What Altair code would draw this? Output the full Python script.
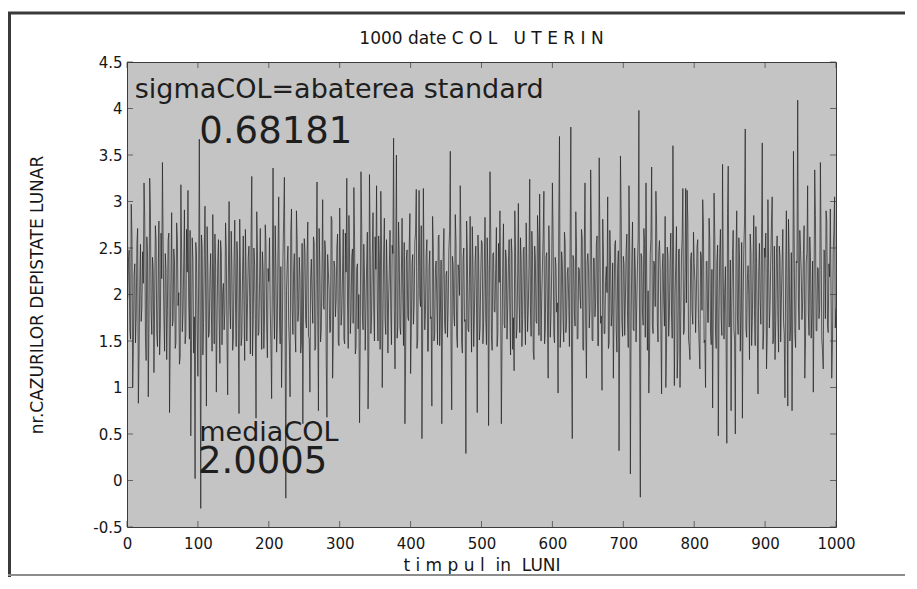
import altair as alt
import pandas as pd

NB = "\u00a0"
# ---------------- texts ----------------
title_text = "1000 date C O L" + NB * 3 + "U T E R I N"
x_title = "t i m p u l" + NB * 2 + "in" + NB * 2 + "LUNI"
y_title = "nr.CAZURILOR DEPISTATE LUNAR"
sigma_label = "sigmaCOL=abaterea standard"
sigma_value = "0.68181"
media_label = "mediaCOL"
media_value = "2.0005"

# ---------------- axis ticks ----------------
x_ticks = [0, 100, 200, 300, 400, 500, 600, 700, 800, 900, 1000]
y_ticks = [-0.5, 0, 0.5, 1, 1.5, 2, 2.5, 3, 3.5, 4, 4.5]

# ---------------- series: even months (2, 4, ..., 1000) ----------------
e00 = [2.35, 1.62, 2.97, 1.00, 2.21, 1.48, 2.55, 0.83, 2.10, 1.71, 2.46, 3.20, 1.55, 2.62, 0.90, 3.25, 1.83, 2.40, 1.16, 2.74, 1.58, 2.18, 1.35, 2.66, 3.42]
e01 = [1.78, 2.44, 1.30, 2.58, 0.73, 2.20, 1.66, 2.49, 1.42, 2.77, 1.88, 1.25, 3.18, 1.60, 2.34, 1.47, 2.70, 3.12, 1.52, 0.48, 2.61, 1.37, 0.02, 2.45, 1.12]
e02 = [3.67, -0.30, 2.52, 1.70, 2.95, 0.80, 2.31, 1.58, 2.44, 1.39, 2.19, 2.65, 0.95, 2.36, 1.74, 2.58, 1.46, 2.12, 1.81, 2.49, 0.92, 3.00, 1.63, 2.27, 1.51]
e03 = [2.80, 1.44, 2.39, 0.72, 2.18, 1.55, 2.63, 1.29, 2.21, 1.90, 2.52, 1.36, 3.27, 1.68, 2.32, 0.67, 2.47, 1.59, 2.71, 1.41, 2.26, 1.77, 2.55, 1.32, 2.14]
e04 = [1.86, 0.88, 3.36, 1.52, 2.29, 1.64, 3.05, 1.47, 1.00, 2.40, 3.26, -0.19, 2.33, 1.71, 0.90, 2.92, 1.57, 2.44, 1.38, 2.59, 1.82, 2.17, 1.49, 0.61, 2.60]
e05 = [1.73, 2.41, 1.55, 0.95, 2.38, 1.69, 2.56, 1.43, 3.21, 0.75, 2.30, 1.61, 3.02, 1.84, 2.47, 0.68, 2.25, 1.59, 2.84, 1.10, 2.36, 1.76, 2.51, 1.48, 2.93]
e06 = [1.67, 2.22, 1.52, 2.66, 3.25, 1.42, 2.35, 1.78, 2.49, 3.15, 1.36, 2.28, 1.63, 0.62, 3.32, 1.79, 2.54, 1.40, 2.31, 0.77, 3.29, 1.58, 2.43, 1.85, 2.62]
e07 = [3.17, 1.50, 2.37, 3.11, 1.00, 2.46, 1.72, 2.59, 1.37, 2.27, 1.83, 2.53, 3.68, 1.20, 3.50, 1.65, 2.42, 1.57, 2.82, 1.45, 0.61, 2.38, 1.76, 2.50, 1.15]
e08 = [2.33, 1.68, 2.57, 3.13, 1.51, 3.12, 1.87, 0.45, 3.14, 1.62, 2.44, 1.39, 2.29, 1.74, 0.80, 2.53, 1.58, 2.36, 1.46, 2.64, 1.81, 0.61, 2.41, 1.69, 2.22]
e09 = [1.54, 2.48, 3.54, 0.76, 2.31, 1.66, 2.57, 1.43, 2.26, 3.17, 1.49, 2.39, 1.71, 0.29, 2.45, 1.60, 2.84, 1.38, 2.30, 1.79, 2.52, 0.73, 2.37, 1.64, 2.58]
e10 = [1.47, 2.34, 1.75, 2.61, 0.59, 3.32, 1.56, 2.43, 1.82, 2.27, 1.44, 2.55, 2.90, 0.61, 2.39, 1.68, 2.48, 1.52, 2.33, 1.77, 2.60, 1.41, 1.18, 2.46, 1.63]
e11 = [2.98, 1.59, 2.35, 1.73, 2.51, 1.46, 2.28, 1.84, 3.24, 1.55, 2.42, 1.30, 2.37, 1.69, 2.58, 3.08, 1.50, 2.31, 3.11, 1.62, 2.45, 1.10, 2.36, 1.78, 3.20]
e12 = [1.57, 2.40, 1.81, 0.94, 3.70, 1.63, 2.33, 1.49, 2.56, 1.72, 2.29, 1.44, 3.80, 0.45, 2.38, 1.66, 2.52, 1.53, 2.27, 1.85, 2.61, 1.40, 3.20, 1.10, 2.44]
e13 = [1.64, 3.34, 1.51, 2.39, 1.76, 2.53, 1.45, 3.47, 1.69, 0.97, 2.43, 1.58, 2.30, 3.05, 1.48, 2.36, 1.80, 1.10, 2.54, 1.62, 2.28, 0.32, 3.49, 1.71, 2.41]
e14 = [1.56, 2.47, 1.74, 3.17, 0.07, 2.35, 1.63, 2.50, 1.49, 2.31, 3.98, -0.18, 2.40, 1.67, 2.55, 3.20, 1.40, 0.94, 2.43, 3.37, 1.58, 2.32, 3.11, 1.70, 2.46]
e15 = [2.29, 0.93, 2.44, 1.66, 1.00, 2.51, 1.55, 2.37, 1.79, 3.60, 1.02, 2.34, 1.10, 2.48, 1.00, 2.39, 3.14, 1.61, 3.14, 3.12, 1.52, 1.30, 2.45, 1.68, 2.33]
e16 = [1.59, 2.52, 1.73, 1.20, 2.41, 3.02, 1.48, 1.00, 2.36, 1.70, 2.57, 1.46, 0.78, 3.09, 1.61, 2.35, 0.48, 2.44, 1.75, 3.40, 1.52, 2.30, 0.40, 3.38, 1.66]
e17 = [0.75, 2.42, 1.63, 0.50, 2.90, 1.57, 2.37, 1.81, 0.67, 2.49, 3.78, 1.54, 2.31, 1.30, 2.46, 1.72, 2.85, 1.45, 2.33, 0.93, 2.55, 1.68, 3.63, 1.59, 2.40]
e18 = [1.20, 3.02, 1.64, 2.38, 3.05, 1.53, 1.30, 2.44, 1.77, 2.52, 1.49, 2.34, 1.71, 0.89, 2.90, 0.80, 2.41, 1.66, 0.75, 3.54, 1.58, 2.36, 4.09, 1.62, 2.47]
e19 = [1.73, 2.43, 1.10, 2.35, 3.17, 1.56, 2.40, 1.80, 0.95, 3.34, 1.61, 2.29, 1.74, 3.42, 1.52, 1.20, 2.46, 2.90, 1.67, 2.33, 2.92, 1.10, 2.44, 3.05, 1.85]

# ---------------- series: odd months (1, 3, ..., 999) ----------------
o00 = [1.95, 2.48, 1.52, 2.62, 1.41, 2.33, 1.77, 2.71, 1.36, 2.54, 1.86, 2.12, 2.83, 1.29, 2.40, 1.68, 2.95, 1.57, 2.26, 1.91, 2.58, 1.44, 2.79, 1.63, 2.17]
o01 = [2.52, 1.39, 2.27, 1.84, 2.66, 1.51, 2.88, 1.72, 2.35, 1.48, 2.61, 2.02, 1.33, 2.47, 1.80, 2.91, 1.58, 2.24, 1.95, 2.69, 1.43, 2.37, 1.76, 2.56, 1.61]
o02 = [2.08, 1.88, 2.64, 1.35, 2.42, 1.96, 2.73, 1.54, 2.19, 1.82, 2.86, 1.47, 2.31, 1.70, 2.59, 1.26, 2.45, 2.03, 1.62, 2.77, 1.53, 2.21, 1.89, 2.68, 1.40]
o03 = [2.36, 1.92, 2.57, 1.60, 2.81, 1.45, 2.23, 1.87, 2.70, 1.50, 2.39, 1.98, 2.63, 1.34, 2.50, 1.73, 2.89, 1.56, 2.14, 1.93, 2.46, 1.42, 2.75, 1.67, 2.28]
o04 = [2.61, 1.46, 2.20, 1.90, 2.74, 1.38, 2.49, 1.79, 2.30, 1.55, 2.83, 1.66, 2.04, 2.52, 1.44, 2.67, 1.85, 2.25, 1.59, 2.90, 1.71, 2.40, 1.37, 2.55, 1.92]
o05 = [2.47, 1.64, 2.78, 1.53, 2.18, 1.97, 2.62, 1.40, 2.34, 1.83, 2.71, 1.49, 2.26, 1.88, 2.58, 1.31, 2.43, 2.06, 1.60, 2.80, 1.52, 2.29, 1.94, 2.65, 1.45]
o06 = [2.38, 1.81, 2.70, 1.47, 2.24, 1.93, 2.85, 1.58, 2.41, 1.69, 2.60, 1.43, 2.33, 2.00, 1.55, 2.76, 1.62, 2.19, 1.86, 2.67, 1.35, 2.51, 1.78, 2.88, 1.50]
o07 = [2.27, 1.90, 2.63, 1.41, 2.53, 1.74, 2.82, 1.57, 2.16, 1.95, 2.69, 1.46, 2.44, 1.84, 2.35, 1.53, 2.78, 1.65, 2.22, 1.99, 2.56, 1.36, 2.48, 1.72, 2.87]
o08 = [1.61, 2.43, 1.89, 2.66, 1.42, 2.30, 1.97, 2.74, 1.54, 2.21, 1.83, 2.59, 1.39, 2.47, 1.76, 2.84, 1.50, 2.28, 1.94, 2.62, 1.45, 2.37, 1.80, 2.71, 1.58]
o09 = [2.25, 1.87, 2.68, 1.48, 2.41, 1.78, 2.86, 1.55, 2.32, 1.99, 2.60, 1.37, 2.50, 1.73, 2.79, 1.63, 2.17, 1.92, 2.73, 1.44, 2.36, 1.85, 2.64, 1.51, 2.23]
o10 = [2.55, 1.70, 2.83, 1.46, 2.27, 1.96, 2.66, 1.40, 2.45, 1.81, 2.72, 1.57, 2.13, 2.01, 1.49, 2.76, 1.64, 2.38, 1.88, 2.59, 1.35, 2.44, 1.75, 2.90, 1.53]
o11 = [2.20, 1.93, 2.61, 1.44, 2.48, 1.79, 2.77, 1.60, 2.30, 1.86, 2.68, 1.39, 2.52, 1.71, 2.85, 1.56, 2.18, 1.98, 2.63, 1.47, 2.40, 1.82, 2.74, 1.54, 2.26]
o12 = [2.64, 1.48, 2.31, 1.91, 2.80, 1.43, 2.46, 1.75, 2.67, 1.59, 2.22, 1.94, 2.57, 1.36, 2.42, 1.80, 2.89, 1.52, 2.29, 1.97, 2.70, 1.41, 2.51, 1.69, 2.35]
o13 = [2.28, 1.84, 2.72, 1.50, 2.39, 1.92, 2.63, 1.45, 2.55, 1.77, 2.81, 1.58, 2.15, 2.02, 1.42, 2.69, 1.66, 2.34, 1.89, 2.58, 1.38, 2.47, 1.83, 2.86, 1.55]
o14 = [2.33, 1.95, 2.65, 1.43, 2.50, 1.72, 2.78, 1.61, 2.24, 1.90, 2.62, 1.47, 2.44, 1.81, 2.71, 1.54, 2.19, 2.04, 1.37, 2.60, 1.68, 2.36, 1.87, 2.75, 1.49]
o15 = [2.58, 1.62, 2.27, 1.93, 2.84, 1.46, 2.41, 1.78, 2.66, 1.53, 2.30, 1.98, 2.73, 1.40, 2.49, 1.74, 2.61, 1.57, 2.21, 1.91, 2.79, 1.44, 2.38, 1.82, 2.67]
o16 = [2.14, 1.97, 2.59, 1.45, 2.46, 1.83, 2.76, 1.51, 2.35, 1.70, 2.82, 1.60, 2.27, 1.94, 2.64, 1.42, 2.53, 1.79, 2.70, 1.56, 2.20, 2.01, 1.48, 2.87, 1.65]
o17 = [2.37, 1.86, 2.69, 1.52, 2.43, 1.76, 2.61, 1.39, 2.56, 1.91, 2.78, 1.63, 2.17, 1.99, 2.65, 1.45, 2.32, 1.84, 2.73, 1.58, 2.25, 1.95, 2.60, 1.41, 2.50]
o18 = [2.66, 1.55, 2.29, 1.89, 2.77, 1.47, 2.52, 1.72, 2.63, 1.38, 2.40, 1.96, 2.70, 1.57, 2.23, 1.85, 2.81, 1.50, 2.45, 1.78, 2.58, 1.43, 2.34, 1.92, 2.69]
o19 = [2.22, 1.91, 2.74, 1.49, 2.44, 1.80, 2.62, 1.53, 2.36, 1.97, 2.85, 1.61, 2.28, 1.87, 2.55, 1.40, 2.48, 1.74, 2.79, 1.59, 2.19, 2.03, 1.46, 2.68, 1.64]

even_vals = (e00 + e01 + e02 + e03 + e04 + e05 + e06 + e07 + e08 + e09 +
             e10 + e11 + e12 + e13 + e14 + e15 + e16 + e17 + e18 + e19)
odd_vals = (o00 + o01 + o02 + o03 + o04 + o05 + o06 + o07 + o08 + o09 +
            o10 + o11 + o12 + o13 + o14 + o15 + o16 + o17 + o18 + o19)

rows = []
for i, (ov, ev) in enumerate(zip(odd_vals, even_vals)):
    rows.append({"luna": 2 * i + 1, "cazuri": ov})
    rows.append({"luna": 2 * i + 2, "cazuri": ev})
df = pd.DataFrame(rows)

FONT = "DejaVu Sans"
INK = "#161616"

xscale = alt.Scale(domain=[0, 1000], nice=False, zero=False)
yscale = alt.Scale(domain=[-0.5, 4.5], nice=False, zero=False)

line = alt.Chart(df).mark_line(color="#222222", strokeWidth=0.7, clip=True).encode(
    x=alt.X("luna:Q", scale=xscale,
            axis=alt.Axis(values=x_ticks, labelExpr="'' + datum.value", title=x_title,
                          ticks=False, tickSize=0, grid=False,
                          domain=False, labelPadding=9, titlePadding=6, labelFontSize=15,
                          titleFontSize=17, labelFont=FONT, titleFont=FONT, labelColor=INK,
                          titleColor=INK, titleFontWeight="normal", labelFlush=False,
                          labelOverlap=False)),
    y=alt.Y("cazuri:Q", scale=yscale,
            axis=alt.Axis(values=y_ticks, labelExpr="'' + datum.value", title=y_title,
                          ticks=False, tickSize=0, grid=False, domain=False, labelPadding=5,
                          titlePadding=46, labelFontSize=15, titleFontSize=17, labelFont=FONT,
                          titleFont=FONT, labelColor=INK, titleColor=INK,
                          titleFontWeight="normal", labelFlush=False, labelOverlap=False)),
)

xt_df = pd.DataFrame({"v": x_ticks})
yt_df = pd.DataFrame({"v": y_ticks})
TICK = "#3a3a3a"

xt_bottom = alt.Chart(xt_df).mark_tick(orient="vertical", size=6, thickness=1, color=TICK, yOffset=-3).encode(
    x=alt.X("v:Q"), y=alt.YDatum(-0.5))
xt_top = alt.Chart(xt_df).mark_tick(orient="vertical", size=6, thickness=1, color=TICK, yOffset=3).encode(
    x=alt.X("v:Q"), y=alt.YDatum(4.5))
yt_left = alt.Chart(yt_df).mark_tick(orient="horizontal", size=6, thickness=1, color=TICK, xOffset=3).encode(
    y=alt.Y("v:Q"), x=alt.XDatum(0))
yt_right = alt.Chart(yt_df).mark_tick(orient="horizontal", size=6, thickness=1, color=TICK, xOffset=-3).encode(
    y=alt.Y("v:Q"), x=alt.XDatum(1000))


def note(txt, xd, yd, size):
    return alt.Chart(pd.DataFrame({"t": [txt]})).mark_text(
        align="left", baseline="alphabetic", font=FONT, fontSize=size, color="#1e1e1e"
    ).encode(x=alt.XDatum(xd), y=alt.YDatum(yd), text="t:N")


notes = [
    note(sigma_label, 11, 4.11, 27),
    note(sigma_value, 102, 3.63, 37),
    note(media_label, 102, 0.43, 27),
    note(media_value, 100, 0.085, 37),
]

title_mark = alt.Chart(pd.DataFrame({"t": [title_text]})).mark_text(
    align="center", baseline="alphabetic", font=FONT, fontSize=17, color=INK
).encode(x=alt.value(354.5), y=alt.value(-18), text="t:N")

one = pd.DataFrame({"k": [0]})
frame_top = alt.Chart(one).mark_rule(color="#3a3a3a", strokeWidth=3).encode(
    x=alt.value(-119), x2=alt.value(790), y=alt.value(-49))
frame_left = alt.Chart(one).mark_rule(color="#3a3a3a", strokeWidth=3).encode(
    x=alt.value(-117.5), y=alt.value(-50), y2=alt.value(515))
frame_bottom = alt.Chart(one).mark_rule(color="#8c8c8c", strokeWidth=2).encode(
    x=alt.value(-119), x2=alt.value(790), y=alt.value(513))

chart = alt.layer(
    line, xt_bottom, xt_top, yt_left, yt_right, *notes, title_mark,
    frame_top, frame_left, frame_bottom
).properties(
    width=709,
    height=465,
    background="white",
    padding={"left": 119, "top": 54, "right": 69, "bottom": 50},
    autosize=alt.AutoSizeParams(type="none"),
).configure_view(
    fill="#c4c4c4", stroke="#3c3c3c", strokeWidth=1
)

chart.save("out.html", embed_options={"renderer": "svg", "actions": False})
